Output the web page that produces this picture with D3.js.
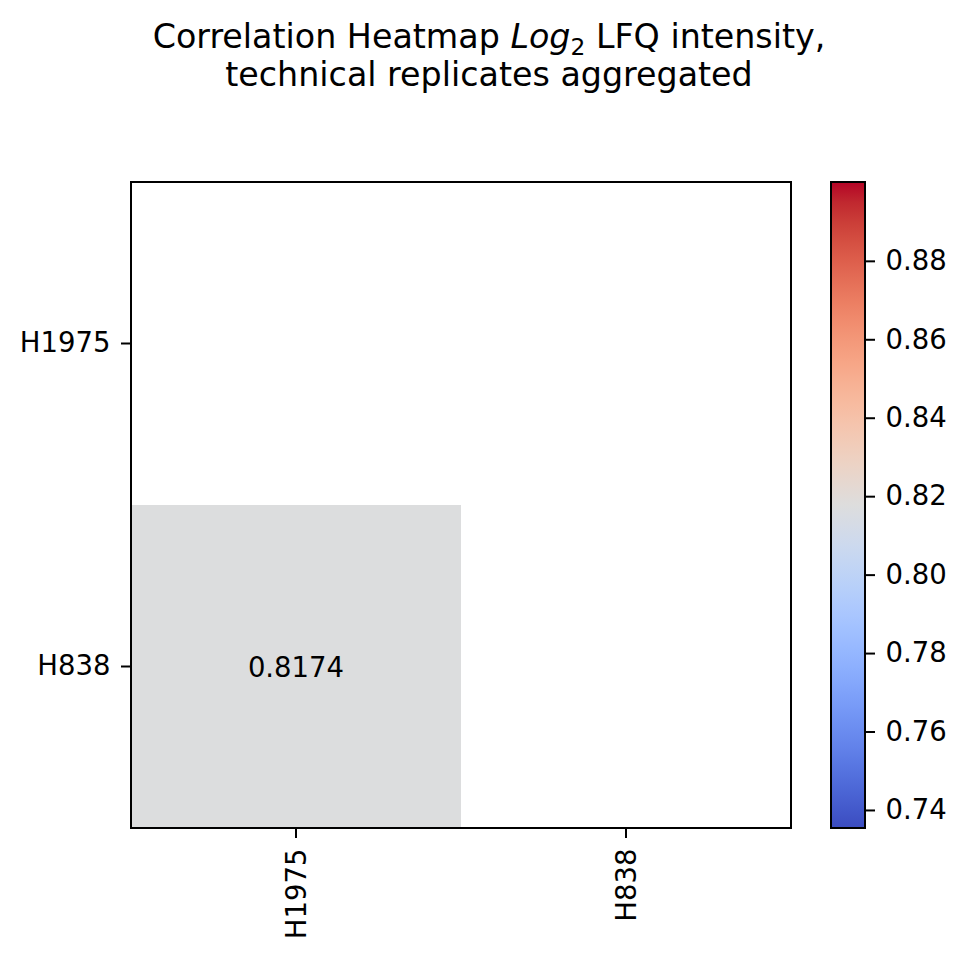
<!DOCTYPE html>
<html><head><meta charset="utf-8">
<script src="https://cdn.jsdelivr.net/npm/d3@7"></script>
<style>body{margin:0;background:#fff}svg{display:block}text{font-family:"DejaVu Sans",sans-serif;fill:#000}</style>
</head><body><svg id="c" width="965" height="959"></svg>
<script>
const samples = ["H1975", "H838"];
// correlation matrix; upper triangle incl. diagonal masked
const corrValues = [[1.0, 0.8174], [0.8174, 1.0]];
const colorDomain = [0.7354, 0.9001];
const colorTicks = [0.74, 0.76, 0.78, 0.80, 0.82, 0.84, 0.86, 0.88];
const coolwarmStops = [[59,76,192],[68,90,204],[77,104,215],[87,117,225],[98,130,234],[108,142,241],[119,154,247],[130,165,251],[141,176,254],[152,185,255],[163,194,255],[174,201,253],[184,208,249],[194,213,244],[204,217,238],[213,219,230],[221,221,221],[229,216,209],[236,211,197],[241,204,185],[245,196,173],[247,187,160],[247,177,148],[247,166,135],[244,154,123],[241,141,111],[236,127,99],[229,112,88],[222,96,77],[213,80,66],[203,62,56],[192,40,47],[180,4,38]];

const svg = d3.select("#c");
const L = 131, R = 791, T = 182, B = 828;
const x = d3.scaleBand().domain(samples).range([L, R]);
const y = d3.scaleBand().domain(samples).range([T, B]);
const coolwarm = d3.scaleLinear()
  .domain(coolwarmStops.map((d, i) => i / (coolwarmStops.length - 1)))
  .range(coolwarmStops.map(c => d3.rgb(c[0], c[1], c[2])))
  .interpolate(d3.interpolateRgb);
const norm = d3.scaleLinear().domain(colorDomain).range([0, 1]).clamp(true);
const color = v => coolwarm(norm(v));

const FS = 27.5, PAD = 10.5, TICK = 10;
// title
const title = svg.append("text").attr("text-anchor", "middle").style("font-size", "33.3px");
const t1 = title.append("tspan").attr("x", 489).attr("y", 48);
t1.append("tspan").text("Correlation Heatmap ");
t1.append("tspan").style("font-style", "italic").text("Log");
t1.append("tspan").attr("dy", 7).style("font-size", "23.3px").text("2");
t1.append("tspan").attr("dy", -7).text(" LFQ intensity,");
title.append("tspan").attr("x", 489).attr("y", 86).text("technical replicates aggregated");

// cells
const cells = [];
samples.forEach((r, i) => samples.forEach((c, j) => { if (j < i) cells.push({r, c, v: corrValues[i][j]}); }));
svg.selectAll("rect.cell").data(cells).join("rect").attr("class", "cell")
  .attr("x", d => x(d.c)).attr("y", d => y(d.r))
  .attr("width", x.bandwidth()).attr("height", y.bandwidth())
  .attr("fill", d => color(d.v));
svg.selectAll("text.ann").data(cells).join("text").attr("class", "ann")
  .attr("x", d => x(d.c) + x.bandwidth() / 2).attr("y", d => y(d.r) + y.bandwidth() / 2)
  .attr("text-anchor", "middle").attr("dominant-baseline", "central")
  .style("font-size", FS + "px").text(d => d.v.toFixed(4));

// frame
svg.append("rect").attr("x", L).attr("y", T).attr("width", R - L).attr("height", B - T)
  .attr("fill", "none").attr("stroke", "#000").attr("stroke-width", 2);

// axes
const xAxis = svg.append("g").attr("transform", `translate(0,${B})`)
  .call(d3.axisBottom(x).tickSize(TICK).tickPadding(PAD));
xAxis.select(".domain").remove();
xAxis.selectAll("line").attr("stroke-width", 2);
xAxis.selectAll("text").style("font-size", FS + "px").attr("font-family", "DejaVu Sans")
  .attr("transform", "rotate(-90)").attr("text-anchor", "end").attr("dy", "0.35em")
  .attr("x", -(TICK + PAD)).attr("y", 0);

const yAxis = svg.append("g").attr("transform", `translate(${L},0)`)
  .call(d3.axisLeft(y).tickSize(TICK).tickPadding(PAD));
yAxis.select(".domain").remove();
yAxis.selectAll("line").attr("stroke-width", 2);
yAxis.selectAll("text").style("font-size", FS + "px").attr("font-family", "DejaVu Sans");

// colorbar
const CL = 831, CR = 865;
const defs = svg.append("defs");
const grad = defs.append("linearGradient").attr("id", "cw").attr("x1", 0).attr("y1", 1).attr("x2", 0).attr("y2", 0);
coolwarmStops.forEach((c, i) => grad.append("stop")
  .attr("offset", i / (coolwarmStops.length - 1)).attr("stop-color", d3.rgb(c[0], c[1], c[2])));
svg.append("rect").attr("x", CL).attr("y", T).attr("width", CR - CL).attr("height", B - T)
  .attr("fill", "url(#cw)").attr("stroke", "#000").attr("stroke-width", 2);
const cy = d3.scaleLinear().domain(colorDomain).range([B, T]);
const cAxis = svg.append("g").attr("transform", `translate(${CR},0)`)
  .call(d3.axisRight(cy).tickValues(colorTicks).tickFormat(d3.format(".2f")).tickSize(TICK).tickPadding(PAD));
cAxis.select(".domain").remove();
cAxis.selectAll("line").attr("stroke-width", 2);
cAxis.selectAll("text").style("font-size", FS + "px").attr("font-family", "DejaVu Sans");
</script></body></html>
